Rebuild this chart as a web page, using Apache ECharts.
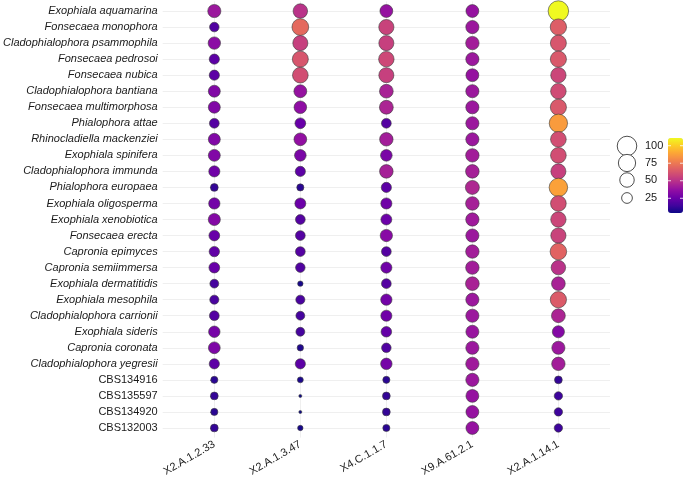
<!DOCTYPE html>
<html>
<head>
<meta charset="utf-8">
<script src="https://cdn.jsdelivr.net/npm/echarts@6/dist/echarts.min.js"></script>
<style>html,body{margin:0;padding:0;background:#fff}#c{width:685px;height:482px}</style>
</head>
<body>
<div id="c"></div>
<script>
const samples = ["X2.A.1.2.33", "X2.A.1.3.47", "X4.C.1.1.7", "X9.A.61.2.1", "X2.A.1.14.1"];
const taxa = [
  "Exophiala aquamarina", "Fonsecaea monophora", "Cladophialophora psammophila",
  "Fonsecaea pedrosoi", "Fonsecaea nubica", "Cladophialophora bantiana",
  "Fonsecaea multimorphosa", "Phialophora attae", "Rhinocladiella mackenziei",
  "Exophiala spinifera", "Cladophialophora immunda", "Phialophora europaea",
  "Exophiala oligosperma", "Exophiala xenobiotica", "Fonsecaea erecta",
  "Capronia epimyces", "Capronia semiimmersa", "Exophiala dermatitidis",
  "Exophiala mesophila", "Cladophialophora carrionii", "Exophiala sideris",
  "Capronia coronata", "Cladophialophora yegresii", "CBS134916",
  "CBS135597", "CBS134920", "CBS132003"
];
const italicTaxa = taxa.map(t => !t.startsWith("CBS"));
const valsX2A1233 = [40,19,35,22,22,32,32,20,32, 32,27,12,28,33,25,23,25,16, 17,20,29,31,22,10,12,10,12];
const valsX2A1347 = [50,70,55,63,60,38,36,25,37, 30,22,10,26,20,20,20,19,6, 17,16,16,8,22,7,4,4,6];
const valsX4C117  = [38,56,55,58,55,44,45,20,42, 30,43,22,27,26,34,20,27,20, 28,27,24,19,29,10,12,12,10];
const valsX9A6121 = [38,40,42,40,38,40,40,40,40, 42,43,46,43,41,40,42,42,44, 40,40,39,40,41,40,38,38,38];
const valsX2A1141 = [111,66,63,64,57,59,64,86,60, 60,55,88,60,57,56,68,50,44, 65,45,33,40,42,12,14,14,14];
const sizeLegendValues = [100, 75, 50, 25];
const colorTicks = [25, 50, 75, 100];

const columns = [valsX2A1233, valsX2A1347, valsX4C117, valsX9A6121, valsX2A1141];
const data = [];
columns.forEach((col, xi) => col.forEach((v, yi) => data.push([xi, yi, v])));

const VMIN = 4, VMAX = 111;
function diam(v) {
  const t = Math.max(0, (v - VMIN) / (VMAX - VMIN));
  return 3 + 17.5 * Math.sqrt(t);
}
const plasma = ['#0d0887','#41049d','#6a00a8','#8f0da4','#b12a90','#cc4778','#e16462','#f2844b','#fca636','#fcce25','#f0f921'];
const txt = '#1a1a1a';

const chart = echarts.init(document.getElementById('c'));

// legend graphics
const graphic = [];
const legY = [146, 163, 180, 198];
sizeLegendValues.forEach((v, i) => {
  graphic.push({type:'circle', shape:{cx:627, cy:legY[i], r:diam(v)/2}, style:{fill:'#fff', stroke:'#222', lineWidth:0.8}});
  graphic.push({type:'text', style:{text:String(v), x:645, y:legY[i], fill:txt, font:'11px "Liberation Sans", Arial, sans-serif', verticalAlign:'middle', align:'left'}});
});
const barTop = 138, barH = 75, barL = 668, barW = 15;
colorTicks.forEach(v => {
  const y = barTop + barH * (1 - (v - VMIN) / (VMAX - VMIN));
  graphic.push({type:'line', shape:{x1:barL, y1:y, x2:barL+3, y2:y}, style:{stroke:'#fff', lineWidth:0.8}, z:100});
  graphic.push({type:'line', shape:{x1:barL+barW-3, y1:y, x2:barL+barW, y2:y}, style:{stroke:'#fff', lineWidth:0.8}, z:100});
});

const idxX = samples.map((_, i) => i);
const idxY = taxa.map((_, i) => i);

chart.setOption({
  backgroundColor: '#fff',
  animation: false,
  grid: {left: 157, right: 75, top: 1.4, bottom: 44.4, containLabel: false},
  xAxis: {
    type: 'value', min: -0.6, max: 4.6,
    axisLine: {show: false},
    axisTick: {show: true, customValues: idxX, length: 4, lineStyle: {color: '#333', width: 0.8}},
    axisLabel: {customValues: idxX, rotate: 30, margin: 6, color: txt, fontSize: 11,
      fontFamily: '"Liberation Sans", Arial, sans-serif',
      formatter: v => samples[Math.round(v)] || ''},
    splitLine: {show: true, lineStyle: {color: '#ebebeb', width: 0.8}}
  },
  yAxis: {
    type: 'value', min: -0.6, max: 26.6, inverse: true,
    axisLine: {show: false},
    axisTick: {show: true, customValues: idxY, length: 4, lineStyle: {color: '#333', width: 0.8}},
    axisLabel: {customValues: idxY, margin: 5, color: txt, fontSize: 11,
      fontFamily: '"Liberation Sans", Arial, sans-serif',
      formatter: v => { const i = Math.round(v); return (italicTaxa[i] ? '{i|' : '{n|') + taxa[i] + '}'; },
      rich: {
        i: {fontStyle: 'italic', fontSize: 11, color: txt, fontFamily: '"Liberation Sans", Arial, sans-serif'},
        n: {fontSize: 11, color: txt, fontFamily: '"Liberation Sans", Arial, sans-serif'}
      }},
    splitLine: {show: true, lineStyle: {color: '#ebebeb', width: 0.8}}
  },
  visualMap: {
    type: 'continuous', seriesIndex: 0, dimension: 2,
    min: VMIN, max: VMAX, calculable: false, hoverLink: false,
    left: barL, top: barTop, itemWidth: barW, itemHeight: barH,
    text: null, showLabel: false, padding: 0,
    inRange: {color: plasma}
  },
  series: [{
    type: 'scatter',
    data: data,
    symbolSize: d => diam(d[2]),
    itemStyle: {borderColor: '#3a3a3a', borderWidth: 0.6, opacity: 1}
  }],
  graphic: graphic
});
</script>
</body>
</html>
